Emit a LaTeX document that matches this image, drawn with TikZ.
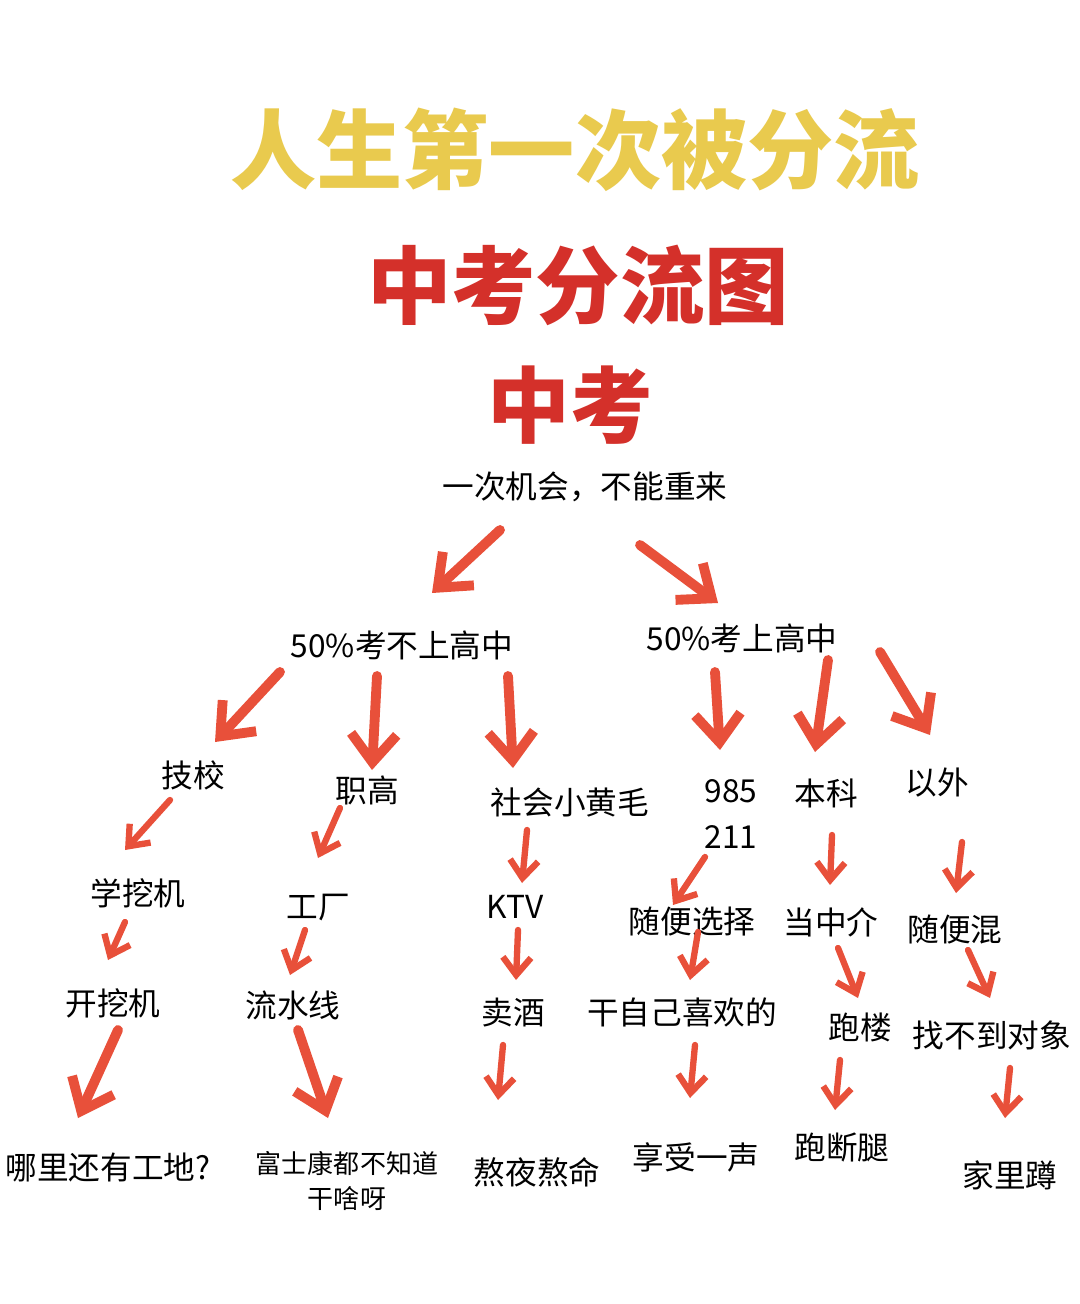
\documentclass[tikz,border=0pt]{standalone}
\usepackage{fontspec}
\setmainfont{Noto Sans CJK SC}
\usetikzlibrary{arrows.meta}
\definecolor{ttlyellow}{HTML}{E9CA4E}
\definecolor{ttlred}{HTML}{D4302A}
\definecolor{arrred}{HTML}{E8503A}
\tikzset{
  lbl/.style={inner sep=0pt, font=\fontsize{9}{11}\selectfont, text=black},
  small/.style={inner sep=0pt, font=\fontsize{7.4}{10}\selectfont, align=center},
  flow/.style={-{Straight Barb[length=8pt, width=13pt]}, arrred, line width=2.8pt, line cap=round},
  thinflow/.style={-{Straight Barb[length=5pt, width=8pt]}, arrred, line width=1.8pt, line cap=round},
}
\begin{document}
\begin{tikzpicture}[x=0.01cm, y=-0.01cm]
   \useasboundingbox[fill=white] (0,0) rectangle (1080,1304);
   % titles
   \node[inner sep=0pt, text=ttlyellow, font=\bfseries\fontsize{24.5}{26}\selectfont] (t1) at (575,150) {人生第一次被分流};
   \node[inner sep=0pt, text=ttlred, font=\bfseries\fontsize{24}{26}\selectfont] (t2) at (578,285) {中考分流图};
   \node[inner sep=0pt, text=ttlred, font=\bfseries\fontsize{23.5}{26}\selectfont] (t3) at (570,405) {中考};
   \node[lbl] (root) at (585,487) {一次机会，不能重来};
   % level 1
   \node[lbl] (no) at (402,645) {50\%考不上高中};
   \node[lbl] (yes) at (742,638) {50\%考上高中};
   % level 2
   \node[lbl] (jx) at (193,775) {技校};
   \node[lbl] (zg) at (367,790) {职高};
   \node[lbl] (sh) at (570,802) {社会小黄毛};
   \node[lbl, align=center, font=\fontsize{9}{12.8}\selectfont] (top) at (731,814) {985\\211};
   \node[lbl] (bk) at (826,793) {本科};
   \node[lbl] (yw) at (937,783) {以外};
   % level 3
   \node[lbl] (xwj) at (138,893) {学挖机};
   \node[lbl] (gc) at (318,908) {工厂};
   \node[lbl] (ktv) at (515,907) {KTV};
   \node[lbl] (sbxz) at (692,921) {随便选择};
   \node[lbl] (dzj) at (831,922) {当中介};
   \node[lbl] (sbh) at (955,929) {随便混};
   % level 4
   \node[lbl] (kwj) at (113,1003) {开挖机};
   \node[lbl] (lsx) at (293,1005) {流水线};
   \node[lbl] (mj) at (513,1013) {卖酒};
   \node[lbl] (gzj) at (682,1012) {干自己喜欢的};
   \node[lbl] (pl) at (860,1027) {跑楼};
   \node[lbl] (zbd) at (992,1035) {找不到对象};
   % level 5
   \node[lbl] (gd) at (108,1167) {哪里还有工地?};
   \node[small] (fsk) at (347,1181) {富士康都不知道\\干啥呀};
   \node[lbl] (ay) at (537,1172) {熬夜熬命};
   \node[lbl] (xs) at (696,1157) {享受一声};
   \node[lbl] (pdt) at (842,1148) {跑断腿};
   \node[lbl] (jld) at (1010,1175) {家里蹲};
   % big arrows
   \foreach \i/\xa/\ya/\xb/\yb in {
      1/500/530/432/593, 2/640/545/718/603,
      3/280/672/215/742, 4/377/676/372/770, 5/508/676/513/768,
      6/715/672/720/750, 7/828/660/815/752, 8/880/652/930/735,
      21/118/1030/78/1118, 22/298/1030/328/1118}{
      \coordinate (s\i) at (\xa,\ya);
      \coordinate (e\i) at (\xb,\yb);
      \draw[flow] (s\i) -- (e\i);
   }
   % small arrows
   \foreach \i/\xa/\ya/\xb/\yb in {
      9/170/800/125/850, 10/340/808/318/858, 11/527/830/522/883,
      12/705/857/673/905, 13/832/835/830/885, 14/962/842/956/893,
      15/125/922/108/960, 16/305/930/290/975, 17/518/930/516/980,
      18/698/932/690/980, 19/838/948/858/998, 20/968/950/990/998,
      23/503/1045/498/1100, 24/695/1045/690/1098, 25/840/1060/835/1110,
      26/1010/1068/1005/1118}{
      \coordinate (s\i) at (\xa,\ya);
      \coordinate (e\i) at (\xb,\yb);
      \draw[thinflow] (s\i) -- (e\i);
   }
\end{tikzpicture}
\end{document}
